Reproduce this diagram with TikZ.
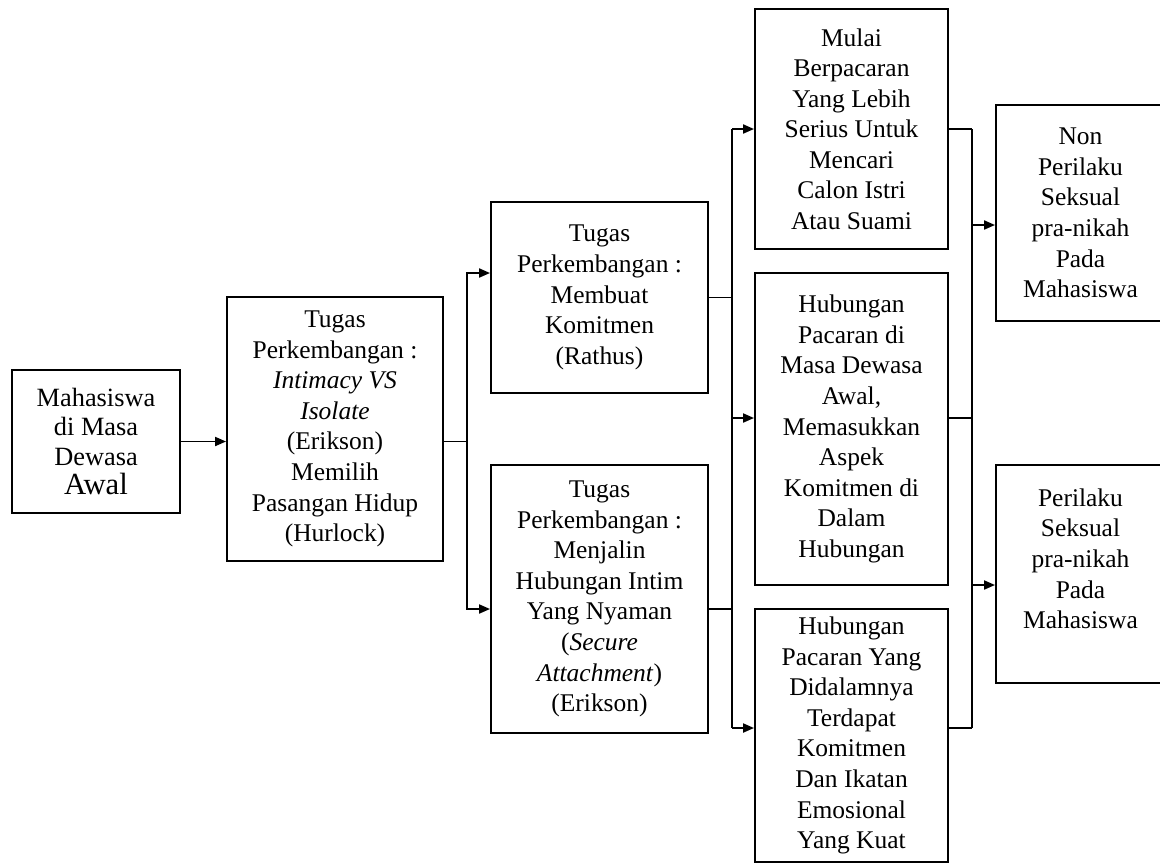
\documentclass[tikz,border=0pt]{standalone}
\usepackage{fontspec}
\setmainfont{Liberation Serif}
\usetikzlibrary{arrows.meta,positioning,calc}

\begin{document}
\begin{tikzpicture}[
  x=0.02cm, y=-0.02cm,
  box/.style={draw, line width=1.1pt, align=center, inner sep=0pt, font=\fontsize{14.5}{17.4}\selectfont},
  line/.style={line width=1.1pt},
  arrow/.style={line width=1.1pt, -{Triangle[length=2.2mm,width=1.8mm]}}
]
  \useasboundingbox (0,0) rectangle (1160,867);

  \node[box, minimum width=3.36cm, minimum height=2.86cm, font=\fontsize{15}{16.8}\selectfont] (mhs) at (96,441.5) {Mahasiswa\\di Masa\\Dewasa\\{\fontsize{17.5}{19}\selectfont Awal}};
  \node[box, minimum width=4.32cm, minimum height=5.28cm] (intimacy) at (335,429) {Tugas\\Perkembangan :\\\textit{Intimacy VS}\\\textit{Isolate}\\(Erikson)\\Memilih\\Pasangan Hidup\\(Hurlock)};
  \node[box, minimum width=4.34cm, minimum height=3.82cm] (komitmen) at (599.5,297.5) {Tugas\\Perkembangan :\\Membuat\\Komitmen\\(Rathus)};
  \node[box, minimum width=4.34cm, minimum height=5.36cm] (intim) at (599.5,599) {Tugas\\Perkembangan :\\Menjalin\\Hubungan Intim\\Yang Nyaman\\(\textit{Secure}\\\textit{Attachment})\\(Erikson)};
  \node[box, minimum width=3.86cm, minimum height=4.8cm] (serius) at (851.5,129) {Mulai\\Berpacaran\\Yang Lebih\\Serius Untuk\\Mencari\\Calon Istri\\Atau Suami};
  \node[box, minimum width=3.86cm, minimum height=6.24cm] (aspek) at (851.5,429) {Hubungan\\Pacaran di\\Masa Dewasa\\Awal,\\Memasukkan\\Aspek\\Komitmen di\\Dalam\\Hubungan};
  \node[box, minimum width=3.86cm, minimum height=5.06cm] (ikatan) at (851.5,735.5) {Hubungan\\Pacaran Yang\\Didalamnya\\Terdapat\\Komitmen\\Dan Ikatan\\Emosional\\Yang Kuat};
  \node[box, minimum width=3.38cm, minimum height=4.32cm] (non) at (1080.5,213) {Non\\Perilaku\\Seksual\\pra-nikah\\Pada\\Mahasiswa};
  \node[box, minimum width=3.38cm, minimum height=4.36cm] (pranikah) at (1080.5,574) {Perilaku\\Seksual\\pra-nikah\\Pada\\Mahasiswa\\ \mbox{}};

  % first split
  \coordinate (jA) at (467,441.5);
  \coordinate (jAtop) at (467,273);
  \coordinate (jAbot) at (467,609);
  % second split
  \coordinate (jBtop) at (732,129);
  \coordinate (jBmid) at (732,418);
  \coordinate (jBbot) at (732,728);
  \coordinate (jBin) at (732,609);
  % third split
  \coordinate (jCtop) at (972,129);
  \coordinate (jCbot) at (972,728);
  \coordinate (jCa) at (972,225);
  \coordinate (jCb) at (972,585);

  \draw[arrow] (mhs.east) -- (mhs.east -| intimacy.west);
  \draw[line] (intimacy.east |- jA) -- (jA);
  \draw[arrow] (jA) -- (jAtop) -- (jAtop -| komitmen.west);
  \draw[arrow] (jA) -- (jAbot) -- (jAbot -| intim.west);

  \draw[line] (komitmen.east) -- (komitmen.east -| jBtop);
  \draw[line] (jBin -| intim.east) -- (jBin);
  \draw[line] (jBtop) -- (jBbot);
  \draw[arrow] (jBtop) -- (jBtop -| serius.west);
  \draw[arrow] (jBmid) -- (jBmid -| aspek.west);
  \draw[arrow] (jBbot) -- (jBbot -| ikatan.west);

  \draw[line] (serius.east) -- (jCtop);
  \draw[line] (jBmid -| aspek.east) -- (jBmid -| jCtop);
  \draw[line] (jBbot -| ikatan.east) -- (jCbot);
  \draw[line] (jCtop) -- (jCbot);
  \draw[arrow] (jCa) -- (jCa -| non.west);
  \draw[arrow] (jCb) -- (jCb -| pranikah.west);
\end{tikzpicture}
\end{document}
